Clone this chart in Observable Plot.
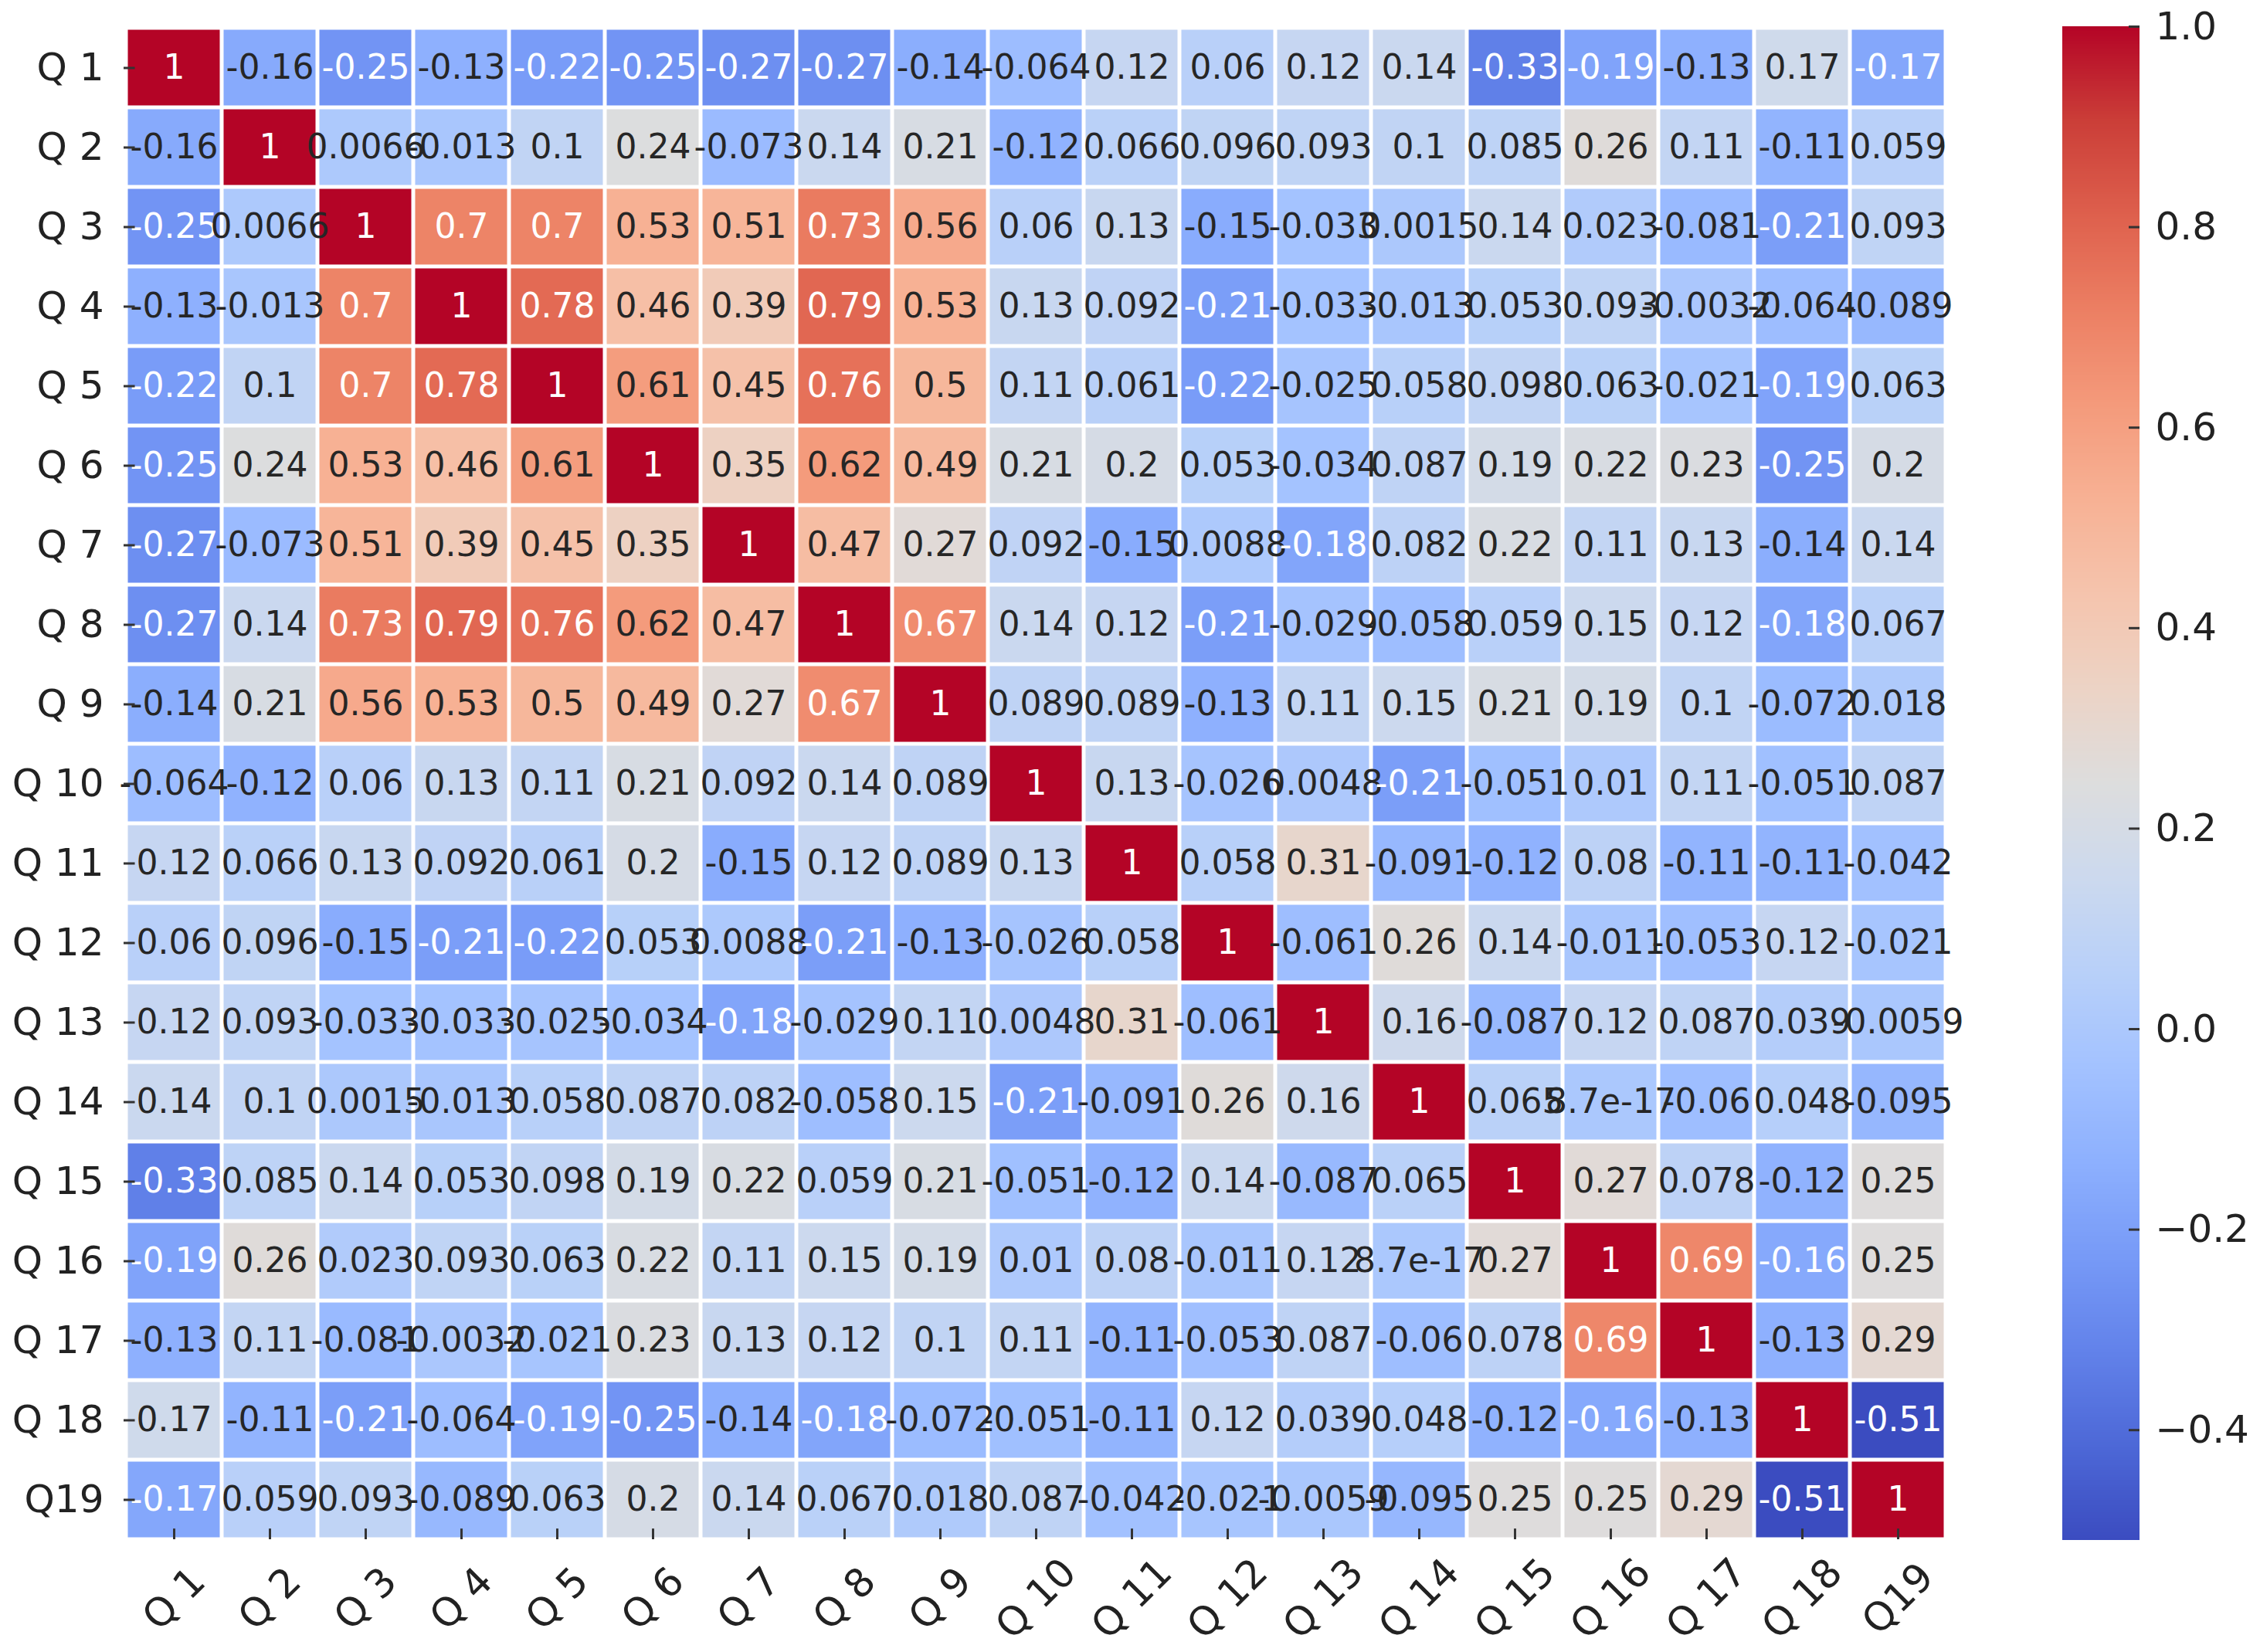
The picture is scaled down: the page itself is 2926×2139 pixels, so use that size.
<!DOCTYPE html>
<html>
<head>
<meta charset="utf-8">
<script src="https://cdn.jsdelivr.net/npm/d3@7"></script>
<script src="https://cdn.jsdelivr.net/npm/@observablehq/plot@0.6"></script>
<style>
  body { margin: 0; background: #fff; }
  #wrap { position: relative; width: 2926px; height: 2139px; background: #fff; overflow: hidden; }
  #heat { position: absolute; left: 0; top: 0; }
  #cbar { position: absolute; left: 2600px; top: 0; }
</style>
</head>
<body>
<div id="wrap"><div id="heat"></div><div id="cbar"></div></div>
<script>
// ---- data ----
const questions = ["Q 1","Q 2","Q 3","Q 4","Q 5","Q 6","Q 7","Q 8","Q 9","Q 10",
                   "Q 11","Q 12","Q 13","Q 14","Q 15","Q 16","Q 17","Q 18","Q19"];

const rowQ1  = [1, -0.157, -0.25, -0.13, -0.22, -0.25, -0.27, -0.27, -0.14, -0.064, 0.12, 0.06, 0.12, 0.14, -0.33, -0.19, -0.13, 0.17, -0.17];
const rowQ2  = [-0.157, 1, 0.0066, -0.013, 0.1, 0.24, -0.073, 0.14, 0.21, -0.12, 0.066, 0.096, 0.093, 0.1, 0.085, 0.26, 0.11, -0.11, 0.059];
const rowQ3  = [-0.25, 0.0066, 1, 0.7, 0.7, 0.53, 0.51, 0.73, 0.56, 0.06, 0.13, -0.15, -0.033, 0.0015, 0.14, 0.023, -0.081, -0.21, 0.093];
const rowQ4  = [-0.13, -0.013, 0.7, 1, 0.78, 0.46, 0.39, 0.79, 0.53, 0.13, 0.092, -0.21, -0.033, -0.013, 0.053, 0.093, -0.0032, -0.064, -0.089];
const rowQ5  = [-0.22, 0.1, 0.7, 0.78, 1, 0.61, 0.45, 0.76, 0.5, 0.11, 0.061, -0.22, -0.025, 0.058, 0.098, 0.063, -0.021, -0.19, 0.063];
const rowQ6  = [-0.25, 0.24, 0.53, 0.46, 0.61, 1, 0.35, 0.62, 0.49, 0.21, 0.2, 0.053, -0.034, 0.087, 0.19, 0.22, 0.23, -0.25, 0.2];
const rowQ7  = [-0.27, -0.073, 0.51, 0.39, 0.45, 0.35, 1, 0.47, 0.27, 0.092, -0.15, 0.0088, -0.18, 0.082, 0.22, 0.11, 0.13, -0.14, 0.14];
const rowQ8  = [-0.27, 0.14, 0.73, 0.79, 0.76, 0.62, 0.47, 1, 0.67, 0.14, 0.12, -0.21, -0.029, -0.058, 0.059, 0.15, 0.12, -0.18, 0.067];
const rowQ9  = [-0.14, 0.21, 0.56, 0.53, 0.5, 0.49, 0.27, 0.67, 1, 0.089, 0.089, -0.13, 0.11, 0.15, 0.21, 0.19, 0.1, -0.072, 0.018];
const rowQ10 = [-0.064, -0.12, 0.06, 0.13, 0.11, 0.21, 0.092, 0.14, 0.089, 1, 0.13, -0.026, 0.0048, -0.21, -0.051, 0.01, 0.11, -0.051, 0.087];
const rowQ11 = [0.12, 0.066, 0.13, 0.092, 0.061, 0.2, -0.15, 0.12, 0.089, 0.13, 1, 0.058, 0.31, -0.091, -0.12, 0.08, -0.11, -0.11, -0.042];
const rowQ12 = [0.06, 0.096, -0.15, -0.21, -0.22, 0.053, 0.0088, -0.21, -0.13, -0.026, 0.058, 1, -0.061, 0.26, 0.14, -0.011, -0.053, 0.12, -0.021];
const rowQ13 = [0.12, 0.093, -0.033, -0.033, -0.025, -0.034, -0.18, -0.029, 0.11, 0.0048, 0.31, -0.061, 1, 0.16, -0.087, 0.12, 0.087, 0.039, -0.0059];
const rowQ14 = [0.14, 0.1, 0.0015, -0.013, 0.058, 0.087, 0.082, -0.058, 0.15, -0.21, -0.091, 0.26, 0.16, 1, 0.065, 8.7e-17, -0.06, 0.048, -0.095];
const rowQ15 = [-0.33, 0.085, 0.14, 0.053, 0.098, 0.19, 0.22, 0.059, 0.21, -0.051, -0.12, 0.14, -0.087, 0.065, 1, 0.27, 0.078, -0.12, 0.25];
const rowQ16 = [-0.19, 0.26, 0.023, 0.093, 0.063, 0.22, 0.11, 0.15, 0.19, 0.01, 0.08, -0.011, 0.12, 8.7e-17, 0.27, 1, 0.69, -0.163, 0.25];
const rowQ17 = [-0.13, 0.11, -0.081, -0.0032, -0.021, 0.23, 0.13, 0.12, 0.1, 0.11, -0.11, -0.053, 0.087, -0.06, 0.078, 0.69, 1, -0.13, 0.29];
const rowQ18 = [0.17, -0.11, -0.21, -0.064, -0.19, -0.25, -0.14, -0.18, -0.072, -0.051, -0.11, 0.12, 0.039, 0.048, -0.12, -0.163, -0.13, 1, -0.51];
const rowQ19 = [-0.17, 0.059, 0.093, -0.089, 0.063, 0.2, 0.14, 0.067, 0.018, 0.087, -0.042, -0.021, -0.0059, -0.095, 0.25, 0.25, 0.29, -0.51, 1];

const colorbarTicks = [-0.4, -0.2, 0.0, 0.2, 0.4, 0.6, 0.8, 1.0];
const colorMin = -0.51, colorMax = 1.0;

// matplotlib "coolwarm" anchor colours
const coolwarm = ["#3b4cc0","#4d68d7","#6282ea","#779af7","#8db0fe","#a3c2ff","#b8d0f9","#ccd9ee",
                  "#dddddd","#ecd3c5","#f5c4ad","#f7b194","#f49a7b","#ec7f63","#de604d","#cb3e38","#b40426"];

// ---- build ----
const rows = [rowQ1,rowQ2,rowQ3,rowQ4,rowQ5,rowQ6,rowQ7,rowQ8,rowQ9,rowQ10,
              rowQ11,rowQ12,rowQ13,rowQ14,rowQ15,rowQ16,rowQ17,rowQ18,rowQ19];
const cells = rows.flatMap((r, i) => r.map((v, j) => ({row: questions[i], col: questions[j], value: v})));

const colorDomain = coolwarm.map((_, i) => colorMin + (colorMax - colorMin) * i / (coolwarm.length - 1));
const colorScale = {type: "linear", domain: colorDomain, range: coolwarm, interpolate: "rgb", clamp: true};

const fmt = v => String(Number(v.toPrecision(2)));
const textColor = v => (v < -0.16 || v > 0.65) ? "#ffffff" : "#262626";

const FONT = "DejaVu Sans, Liberation Sans, sans-serif";
const TOP = 34, BOTTOM = 145;
const bandW = (2523 - 158) / 19;
const bandH = (2139 - BOTTOM - TOP) / 19;

const heat = Plot.plot({
  width: 2560, height: 2139,
  marginTop: TOP, marginBottom: BOTTOM, marginLeft: 158, marginRight: 37,
  style: {fontFamily: FONT, background: "white", overflow: "visible"},
  x: {domain: questions, padding: 0, axis: null},
  y: {domain: questions, padding: 0},
  color: colorScale,
  marks: [
    Plot.cell(cells, {x: "col", y: "row", fill: "value", inset: 2.5}),
    Plot.text(cells, {x: "col", y: "row", text: d => fmt(d.value), fill: d => textColor(d.value), fontSize: 44}),
    Plot.tickY(questions, {y: d => d, x: () => questions[0], insetLeft: -3, insetRight: bandW - 12, stroke: "#333", strokeWidth: 3}),
    Plot.tickX(questions, {x: d => d, y: () => questions[questions.length - 1], insetTop: bandH - 14, insetBottom: 0, stroke: "#333", strokeWidth: 3}),
    Plot.axisY({tickSize: 0, tickPadding: 24, fontSize: 50, label: null, color: "#222"}),
    Plot.text(questions, {x: d => d, frameAnchor: "bottom", dy: 76, rotate: -45, fontSize: 51, fill: "#222", textAnchor: "middle", lineAnchor: "middle"})
  ]
});
document.getElementById("heat").appendChild(heat);

// colour bar
const step = 0.0025;
const gradientSteps = d3.range(colorMin, colorMax, step);
const tickFmt = d => (d < 0 ? "\u2212" : "") + Math.abs(d).toFixed(1);

const cbar = Plot.plot({
  width: 326, height: 2139,
  marginTop: TOP, marginBottom: BOTTOM, marginLeft: 70, marginRight: 156,
  style: {fontFamily: FONT, background: "white", overflow: "visible"},
  x: {domain: [0, 1], axis: null},
  y: {domain: [colorMin, colorMax], axis: null},
  color: colorScale,
  marks: [
    Plot.rect(gradientSteps, {x1: 0, x2: 1, y1: d => d, y2: d => Math.min(colorMax, d + step * 1.6), fill: d => d + step / 2, shapeRendering: "crispEdges"}),
    Plot.ruleY(colorbarTicks, {y: d => d, x1: 0.86, x2: 1, stroke: "#333", strokeWidth: 3}),
    Plot.text(colorbarTicks, {y: d => d, x: 1, dx: 20, textAnchor: "start", text: tickFmt, fontSize: 50, fill: "#222"})
  ]
});
document.getElementById("cbar").appendChild(cbar);
</script>
</body>
</html>
